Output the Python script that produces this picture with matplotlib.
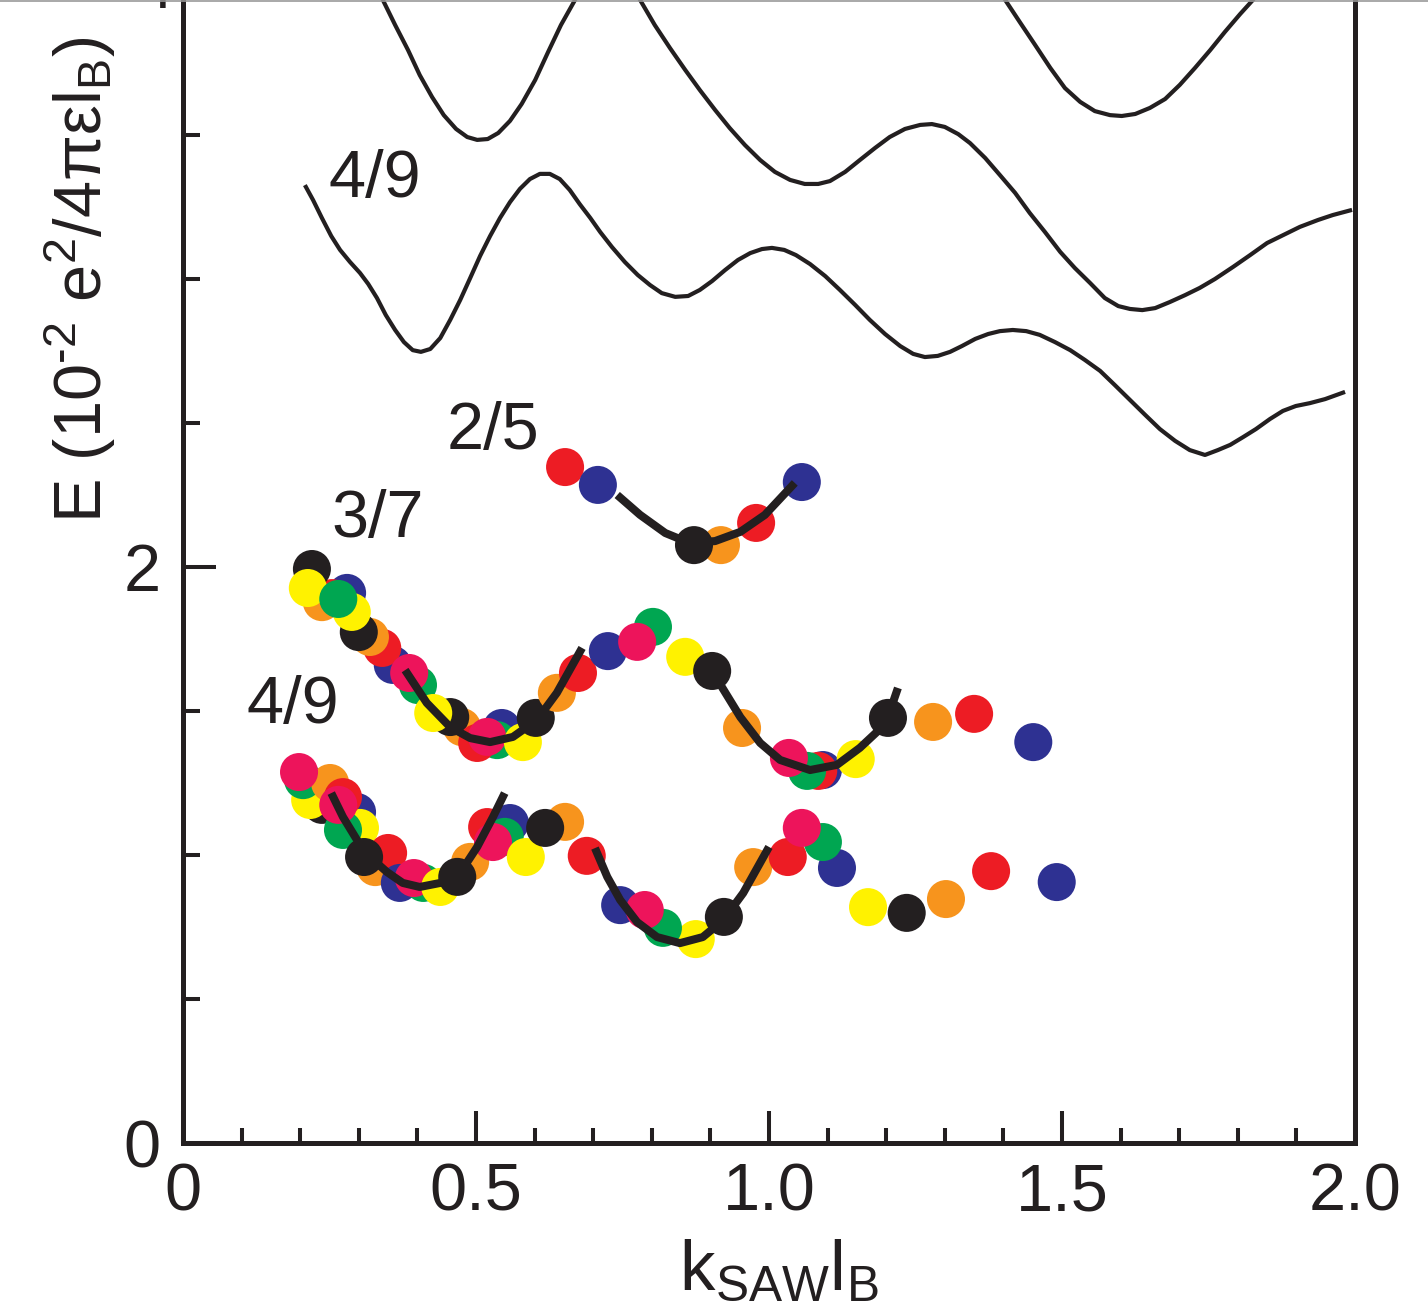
import numpy as np
import matplotlib.pyplot as plt
from matplotlib.lines import Line2D

plt.rcParams['font.family'] = ['Liberation Sans', 'DejaVu Sans']
plt.rcParams['mathtext.fontset'] = 'custom'
plt.rcParams['mathtext.rm'] = 'Liberation Sans'
plt.rcParams['mathtext.it'] = 'Liberation Sans'

# ==================== data ====================
COLORS = {'r': '#ED1C24', 'b': '#2E3192', 'g': '#00A651', 'y': '#FFF200',
          'o': '#F7941D', 'k': '#231F20', 'p': '#ED145B'}

# measured points, 2/5 branch
x_25 = [0.652, 0.708, 0.918, 0.978, 0.872, 1.056]
y_25 = [2.347, 2.285, 2.076, 2.153, 2.076, 2.295]
c_25 = ['r', 'b', 'o', 'r', 'k', 'b']

# measured points, 3/7 branch
x_37 = [0.358, 0.340, 0.319, 0.300, 0.280, 0.254, 0.237, 0.220, 0.213, 0.288,
        0.265, 0.401, 0.386, 0.476, 0.456, 0.427, 0.544, 0.536, 0.502, 0.519,
        0.580, 0.602, 0.638, 0.674, 0.725, 0.802, 0.775, 0.857, 0.903, 0.954,
        1.092, 1.084, 1.065, 1.034, 1.148, 1.203, 1.280, 1.350, 1.451]
y_37 = [1.660, 1.719, 1.757, 1.774, 1.910, 1.892, 1.878, 1.993, 1.927, 1.844,
        1.889, 1.590, 1.632, 1.444, 1.479, 1.493, 1.441, 1.399, 1.389, 1.410,
        1.392, 1.476, 1.563, 1.632, 1.708, 1.792, 1.740, 1.688, 1.639, 1.441,
        1.295, 1.292, 1.292, 1.337, 1.333, 1.476, 1.462, 1.490, 1.392]
c_37 = ['b', 'r', 'o', 'k', 'b', 'r', 'o', 'k', 'y', 'y',
        'g', 'g', 'p', 'o', 'k', 'y', 'b', 'g', 'r', 'p',
        'y', 'k', 'o', 'r', 'b', 'g', 'p', 'y', 'k', 'o',
        'b', 'r', 'g', 'p', 'y', 'k', 'o', 'r', 'b']

# measured points, 4/9 branch
x_49 = [0.237, 0.217, 0.205, 0.251, 0.198, 0.297, 0.302, 0.273, 0.273, 0.265,
        0.328, 0.350, 0.309, 0.370, 0.410, 0.394, 0.439, 0.490, 0.468,
        0.519, 0.558, 0.549, 0.529, 0.585, 0.652, 0.618, 0.689,
        0.746, 0.875, 0.819, 0.788, 0.923, 0.973, 1.032, 1.116, 1.092, 1.056,
        1.169, 1.235, 1.302, 1.379, 1.491]
y_49 = [1.174, 1.191, 1.260, 1.250, 1.288, 1.149, 1.094, 1.201, 1.087, 1.174,
        0.958, 1.007, 0.993, 0.903, 0.903, 0.920, 0.889, 0.976, 0.924,
        1.097, 1.111, 1.063, 1.045, 0.993, 1.115, 1.094, 0.997,
        0.826, 0.708, 0.747, 0.809, 0.785, 0.958, 0.993, 0.955, 1.045, 1.094,
        0.819, 0.799, 0.847, 0.944, 0.906]
c_49 = ['k', 'y', 'g', 'o', 'p', 'b', 'y', 'r', 'g', 'p',
        'o', 'r', 'k', 'b', 'g', 'p', 'y', 'o', 'k',
        'r', 'b', 'g', 'p', 'y', 'o', 'k', 'r',
        'b', 'y', 'g', 'p', 'k', 'o', 'r', 'b', 'g', 'p',
        'y', 'k', 'o', 'r', 'b']

# fitted minima (thick lines)
fit_25_x = [0.741, 0.780, 0.823, 0.865, 0.908, 0.951, 0.993, 1.044]
fit_25_y = [2.250, 2.181, 2.118, 2.083, 2.090, 2.122, 2.181, 2.292]
fit_37a_x = [0.379, 0.416, 0.456, 0.490, 0.524, 0.563, 0.604, 0.638, 0.681]
fit_37a_y = [1.642, 1.528, 1.444, 1.406, 1.392, 1.410, 1.469, 1.563, 1.719]
fit_37b_x = [0.910, 0.951, 0.985, 1.019, 1.070, 1.116, 1.155, 1.184, 1.203, 1.220]
fit_37b_y = [1.615, 1.479, 1.389, 1.330, 1.295, 1.313, 1.372, 1.427, 1.479, 1.580]
fit_49a_x = [0.253, 0.273, 0.297, 0.319, 0.348, 0.375, 0.404, 0.439, 0.473, 0.502, 0.529, 0.549]
fit_49a_y = [1.215, 1.132, 1.052, 0.993, 0.941, 0.903, 0.889, 0.903, 0.938, 1.028, 1.132, 1.215]
fit_49b_x = [0.703, 0.724, 0.746, 0.775, 0.809, 0.848, 0.887, 0.922, 0.956, 1.000]
fit_49b_y = [1.024, 0.924, 0.844, 0.767, 0.715, 0.694, 0.715, 0.774, 0.868, 1.028]

# theory dispersions (thin lines)
th1_x = [0.328, 0.341, 0.362, 0.384, 0.404, 0.425, 0.445, 0.466, 0.485, 0.502,
         0.520, 0.538, 0.558, 0.578, 0.601, 0.623, 0.645, 0.669, 0.686]
th1_y = [4.038, 3.969, 3.882, 3.795, 3.708, 3.632, 3.569, 3.521, 3.493, 3.483,
         3.486, 3.507, 3.549, 3.608, 3.691, 3.788, 3.882, 3.969, 4.038]
th2_x = [0.766, 0.780, 0.805, 0.831, 0.857, 0.882, 0.908, 0.933, 0.959, 0.985,
         1.010, 1.036, 1.061, 1.084, 1.104, 1.130, 1.155, 1.181, 1.206, 1.232,
         1.258, 1.278, 1.300, 1.323, 1.343, 1.369, 1.394, 1.420, 1.445, 1.471,
         1.497, 1.522, 1.548, 1.573, 1.596, 1.616, 1.637, 1.659, 1.684, 1.710,
         1.735, 1.761, 1.792, 1.821, 1.850, 1.881, 1.906, 1.937, 1.962, 1.995]
th2_y = [4.021, 3.969, 3.882, 3.802, 3.726, 3.656, 3.587, 3.524, 3.465, 3.413,
         3.372, 3.344, 3.330, 3.330, 3.340, 3.372, 3.413, 3.455, 3.493, 3.521,
         3.535, 3.538, 3.528, 3.503, 3.472, 3.420, 3.361, 3.299, 3.229, 3.163,
         3.094, 3.038, 2.986, 2.934, 2.906, 2.896, 2.892, 2.899, 2.920, 2.944,
         2.969, 3.000, 3.042, 3.083, 3.125, 3.156, 3.181, 3.205, 3.222, 3.240]
th3_x = [0.208, 0.222, 0.237, 0.253, 0.268, 0.285, 0.302, 0.316, 0.331, 0.346,
         0.362, 0.377, 0.392, 0.406, 0.422, 0.439, 0.456, 0.473, 0.490, 0.507,
         0.524, 0.541, 0.558, 0.575, 0.592, 0.609, 0.626, 0.643, 0.660, 0.677,
         0.695, 0.712, 0.732, 0.754, 0.776, 0.797, 0.817, 0.840, 0.862, 0.882,
         0.903, 0.925, 0.947, 0.968, 0.988, 1.005, 1.026, 1.046, 1.070, 1.096,
         1.121, 1.147, 1.172, 1.198, 1.224, 1.246, 1.266, 1.288, 1.309, 1.329,
         1.352, 1.374, 1.394, 1.416, 1.439, 1.462, 1.488, 1.514, 1.539, 1.565,
         1.590, 1.616, 1.642, 1.667, 1.693, 1.718, 1.744, 1.766, 1.787, 1.809,
         1.831, 1.855, 1.877, 1.899, 1.923, 1.949, 1.983]
th3_y = [3.326, 3.274, 3.212, 3.149, 3.101, 3.059, 3.021, 2.983, 2.934, 2.875,
         2.823, 2.781, 2.753, 2.747, 2.757, 2.795, 2.858, 2.927, 3.003, 3.080,
         3.149, 3.212, 3.267, 3.313, 3.347, 3.365, 3.365, 3.347, 3.309, 3.260,
         3.212, 3.163, 3.111, 3.059, 3.014, 2.979, 2.951, 2.938, 2.941, 2.962,
         2.993, 3.031, 3.066, 3.090, 3.104, 3.108, 3.101, 3.083, 3.052, 3.010,
         2.962, 2.910, 2.858, 2.809, 2.767, 2.740, 2.729, 2.733, 2.747, 2.767,
         2.792, 2.809, 2.819, 2.823, 2.819, 2.806, 2.781, 2.753, 2.719, 2.681,
         2.632, 2.580, 2.528, 2.479, 2.438, 2.406, 2.389, 2.406, 2.424, 2.451,
         2.479, 2.514, 2.542, 2.559, 2.569, 2.583, 2.608]
th4_x = [1.386, 1.403, 1.428, 1.454, 1.480, 1.505, 1.531, 1.556, 1.582, 1.602,
         1.625, 1.650, 1.676, 1.701, 1.727, 1.753, 1.778, 1.804, 1.829, 1.846]
th4_y = [4.038, 3.969, 3.892, 3.813, 3.733, 3.663, 3.615, 3.583, 3.569, 3.566,
         3.573, 3.594, 3.625, 3.674, 3.733, 3.795, 3.858, 3.920, 3.976, 4.021]

# fraction labels: (text, x, y)
LABELS = [('4/9', 0.328, 3.344), ('2/5', 0.529, 2.469),
          ('3/7', 0.333, 2.163), ('4/9', 0.188, 1.517)]

# ==================== plot ====================
fig = plt.figure(figsize=(14.28, 13.15), dpi=100)
ax = fig.add_axes([183 / 1428, 1 - 1143 / 1315, 1172 / 1428, 1143 / 1315])
ax.set_xlim(0, 2.0)
ax.set_ylim(0, 1143 / 288)

for xs, ys in [(th1_x, th1_y), (th2_x, th2_y), (th3_x, th3_y), (th4_x, th4_y)]:
    ax.plot(xs, ys, color='#231F20', lw=3.0, solid_joinstyle='round',
            solid_capstyle='butt', zorder=2)

for xs, ys, cs in [(x_25, y_25, c_25), (x_37, y_37, c_37), (x_49, y_49, c_49)]:
    ax.scatter(xs, ys, s=750, c=[COLORS[c] for c in cs], linewidths=0, zorder=3)

for xs, ys in [(fit_25_x, fit_25_y), (fit_37a_x, fit_37a_y), (fit_37b_x, fit_37b_y),
               (fit_49a_x, fit_49a_y), (fit_49b_x, fit_49b_y)]:
    ax.plot(xs, ys, color='#231F20', lw=5.8, solid_capstyle='butt',
            solid_joinstyle='round', zorder=4)

for txt, tx, ty in LABELS:
    ax.text(tx, ty, txt, fontsize=48, ha='center', va='center', color='#231F20', zorder=5)

# axes / ticks
for side in ['left', 'bottom', 'right']:
    ax.spines[side].set_linewidth(3.6)
    ax.spines[side].set_color('#231F20')
ax.spines['top'].set_visible(False)

ax.set_xticks([0, 0.5, 1.0, 1.5, 2.0])
ax.set_xticklabels(['0', '0.5', '1.0', '1.5', '2.0'])
ax.set_xticks(np.arange(0.1, 2.0, 0.1), minor=True)
ax.set_yticks([0, 2])
ax.set_yticklabels(['0', '2'])
ax.set_yticks([0.5, 1.0, 1.5, 2.5, 3.0, 3.5], minor=True)
ax.tick_params(axis='x', which='major', direction='in', length=23, width=2.9,
               labelsize=48, pad=14, color='#231F20', labelcolor='#231F20')
ax.tick_params(axis='x', which='minor', direction='in', length=10.5, width=2.9,
               color='#231F20')
ax.tick_params(axis='y', which='major', direction='in', length=24, width=2.9,
               labelsize=48, pad=16, color='#231F20', labelcolor='#231F20')
ax.tick_params(axis='y', which='minor', direction='in', length=12, width=2.9,
               color='#231F20')
ax.yaxis.get_minor_ticks()[1].tick1line.set_color('#2E3192')
# tick label "4" sits above the visible area; only its foot shows at the top edge
ax.text(-0.016, 4.0, '4', fontsize=48, ha='right', va='center', color='#231F20',
        clip_on=False)

fig.text(80 / 1428, 1 - 280 / 1315, r'E (10$^{\text{-}2}$ e$^{2}$/4πεl$_\mathrm{B}$)',
         fontsize=48, rotation=90, ha='center', va='center', color='#231F20')
fig.text(779 / 1428, 1 - 1272 / 1315, r'k$_\mathrm{SAW}$l$_\mathrm{B}$',
         fontsize=51, ha='center', va='center', color='#231F20')

fig.add_artist(Line2D([0, 1], [0.9995, 0.9995], transform=fig.transFigure,
                      color='#999999', lw=1.2))

fig.savefig('out.png', dpi=100)
